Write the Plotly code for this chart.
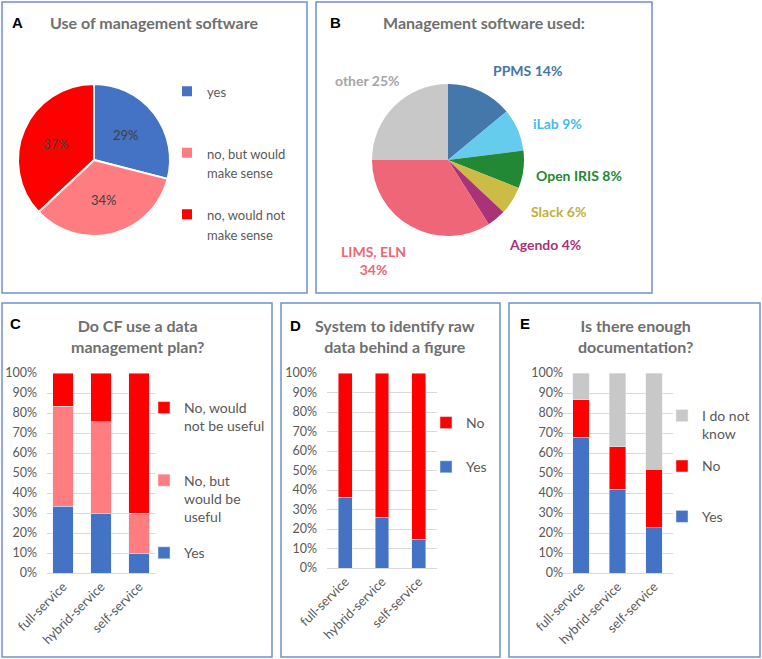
import math
import plotly.graph_objects as go

W, H = 762, 659


def X(px):
    return px / W


def Y(py):
    return 1 - py / H


# ---------------- data ----------------
a_labels = ["yes", "no, but would<br>make sense", "no, would not<br>make sense"]
a_values = [29, 34, 37]

b_labels = ["PPMS", "iLab", "Open IRIS", "Slack", "Agendo", "LIMS, ELN", "other"]
b_values = [14, 9, 8, 6, 4, 34, 25]

categories = ["full-service", "hybrid-service", "self-service"]

c_yes = [33.3, 29.8, 10.0]
c_no_but = [50.0, 45.8, 20.0]
c_no_not = [16.7, 24.4, 70.0]

d_yes = [36.3, 26.0, 14.7]
d_no = [63.7, 74.0, 85.3]

e_yes = [67.9, 41.8, 22.6]
e_no = [18.7, 21.4, 29.2]
e_idk = [13.4, 36.8, 48.2]

# ---------------- styles ----------------
FONT = "Lato"
GRAY = "#595959"
TITLE_GRAY = "#6f6f6f"
BLUE = "#4472C4"
SALMON = "#FF7C80"
RED = "#FF0000"
LGRAY = "#C8C8C8"
b_colors = ["#4477AA", "#66CCEE", "#228833", "#CCBB44", "#AA3377", "#EE6677", "#C8C8C8"]
b_text_colors = ["#4477AA", "#44BBEE", "#228833", "#C2B03A", "#AA3377", "#EE6677", "#A6A6A6"]

NB = "\u00a0"


def pad(label, lines):
    n = label.count("<br>") + 1
    return label + ("<br>" + NB) * (lines - n)


# pie geometry (pixels)
A_CX, A_CY, A_R = 94, 160, 76
B_CX, B_CY, B_R = 448, 160, 76

fig = go.Figure()

# Panel A pie
fig.add_trace(go.Pie(
    labels=[f"<span style='font-size:13px'>{pad(t, 3)}</span>" for t in a_labels],
    values=a_values,
    sort=False, direction="clockwise", rotation=0,
    marker=dict(colors=[BLUE, SALMON, RED], line=dict(color="white", width=2)),
    textinfo="none",
    domain=dict(x=[X(A_CX - A_R), X(A_CX + A_R)], y=[Y(A_CY + A_R), Y(A_CY - A_R)]),
    legend="legend", showlegend=True, hoverinfo="label+percent",
))

# Panel B pie
fig.add_trace(go.Pie(
    labels=b_labels, values=b_values,
    sort=False, direction="clockwise", rotation=0,
    marker=dict(colors=b_colors, line=dict(color="white", width=0)),
    textinfo="none",
    domain=dict(x=[X(B_CX - B_R), X(B_CX + B_R)], y=[Y(B_CY + B_R), Y(B_CY - B_R)]),
    showlegend=False,
))

# Panel C bars
c_series = [("Yes", c_yes, BLUE), ("No, but<br>would be<br>useful", c_no_but, SALMON),
            ("No, would<br>not be useful", c_no_not, RED)]
for i, (name, vals, col) in enumerate(c_series):
    fig.add_trace(go.Bar(x=categories, y=vals, name=pad(name, 3), marker_color=col, width=0.55,
                         xaxis="x", yaxis="y", legend="legend2", legendgroup=f"c{i}",
                         legendrank=100 - i))

d_series = [("Yes", d_yes, BLUE), ("No", d_no, RED)]
for i, (name, vals, col) in enumerate(d_series):
    fig.add_trace(go.Bar(x=categories, y=vals, name=name, marker_color=col, width=0.38,
                         xaxis="x2", yaxis="y2", legend="legend3", legendgroup=f"d{i}",
                         legendrank=100 - i))

e_series = [("Yes", e_yes, BLUE), ("No", e_no, RED), ("I do not<br>know", e_idk, LGRAY)]
for i, (name, vals, col) in enumerate(e_series):
    fig.add_trace(go.Bar(x=categories, y=vals, name=pad(name, 2), marker_color=col, width=0.44,
                         xaxis="x3", yaxis="y3", legend="legend4", legendgroup=f"e{i}",
                         legendrank=100 - i))

xa = dict(type="category", tickangle=-45, tickfont=dict(size=13, color=GRAY, family=FONT),
          showline=True, linecolor="#D9D9D9", linewidth=1, showgrid=False, ticks="",
          fixedrange=True)
ya = dict(range=[0, 100], dtick=10, ticksuffix="%", tickfont=dict(size=12.5, color=GRAY, family=FONT),
          showgrid=True, gridcolor="#D9D9D9", gridwidth=1, zeroline=False, showline=False,
          ticks="", fixedrange=True, anchor="free")

legend_common = dict(bgcolor="rgba(0,0,0,0)", xanchor="left", yanchor="top", valign="top",
                     traceorder="grouped", font=dict(size=14, color=GRAY, family=FONT))

fig.update_layout(
    width=W, height=H, margin=dict(l=0, r=0, t=0, b=0, autoexpand=False),
    paper_bgcolor="white", plot_bgcolor="white",
    barmode="stack",
    font=dict(family=FONT, color=GRAY),
    xaxis=dict(xa, domain=[X(47), X(155)], range=[-0.42, 2.42], anchor="y"),
    yaxis=dict(ya, domain=[Y(573), Y(373)], position=X(37)),
    xaxis2=dict(xa, domain=[X(327), X(437)], range=[-0.5, 2.5], anchor="y2"),
    yaxis2=dict(ya, domain=[Y(568), Y(373)], position=X(317)),
    xaxis3=dict(xa, domain=[X(562), X(673)], range=[-0.52, 2.52], anchor="y3"),
    yaxis3=dict(ya, domain=[Y(573), Y(373)], position=X(563)),
    legend=dict(legend_common, x=X(167), y=Y(75), traceorder="normal",
                font=dict(size=15, color=GRAY, family=FONT)),
    legend2=dict(legend_common, x=X(144), y=Y(392), tracegroupgap=15),
    legend3=dict(legend_common, x=X(426), y=Y(407), tracegroupgap=23),
    legend4=dict(legend_common, x=X(662), y=Y(400), tracegroupgap=11),
    showlegend=True,
)

# Pie A percentage labels, placed at the slice mid-angles
cum = 0
total = sum(a_values)
for v in a_values:
    mid = (cum + v / 2) / total * 2 * math.pi
    cum += v
    r = 0.54 * A_R
    fig.add_annotation(text=f"{v}%", x=X(A_CX + r * math.sin(mid)), y=Y(A_CY - r * math.cos(mid)),
                       xref="paper", yref="paper", showarrow=False,
                       font=dict(family=FONT, size=13, color="#404040"),
                       xanchor="center", yanchor="middle")

# Panel borders
border = dict(type="rect", xref="paper", yref="paper", line=dict(color="#6F8FD5", width=1.5),
              fillcolor="rgba(0,0,0,0)", layer="above")
for (x0, y0, x1, y1) in [(2, 2, 307, 293), (316, 2, 652, 293), (2, 303, 272, 657),
                         (281, 303, 500, 657), (509, 303, 760, 657)]:
    fig.add_shape(border, x0=X(x0), x1=X(x1), y0=Y(y1), y1=Y(y0))

# Panel letters and titles
letters = [("A", 17, 23), ("B", 335, 23), ("C", 15, 323), ("D", 295, 325), ("E", 525, 323)]
for t, x, y in letters:
    fig.add_annotation(text=f"<b>{t}</b>", x=X(x), y=Y(y), xref="paper", yref="paper",
                       showarrow=False, font=dict(family="Liberation Sans", size=15, color="black"),
                       xanchor="center", yanchor="middle")

titles = [("Use of management software", 154, 23), ("Management software used:", 484, 23),
          ("Do CF use a data<br>management plan?", 137, 336),
          ("System to identify raw<br>data behind a figure", 395, 336),
          ("Is there enough<br>documentation?", 635, 336)]
for t, x, y in titles:
    fig.add_annotation(text=f"<b>{t}</b>", x=X(x), y=Y(y), xref="paper", yref="paper",
                       showarrow=False, font=dict(family=FONT, size=16, color=TITLE_GRAY),
                       xanchor="center", yanchor="middle", align="center")

# Pie B labels
b_label_pos = [(527, 70), (557, 123), (579, 176), (558, 212), (545, 244), (373, 260), (367, 81)]
for lab, val, col, (x, y) in zip(b_labels, b_values, b_text_colors, b_label_pos):
    txt = f"{lab}<br>{val}%" if lab.startswith("LIMS") else f"{lab} {val}%"
    fig.add_annotation(text=f"<b>{txt}</b>", x=X(x), y=Y(y), xref="paper", yref="paper",
                       showarrow=False, font=dict(family=FONT, size=14, color=col),
                       xanchor="center", yanchor="middle", align="center")

fig.write_html("out.html", config={"displayModeBar": False},
               post_script="document.body.style.margin='0';document.body.style.overflow='hidden';")
